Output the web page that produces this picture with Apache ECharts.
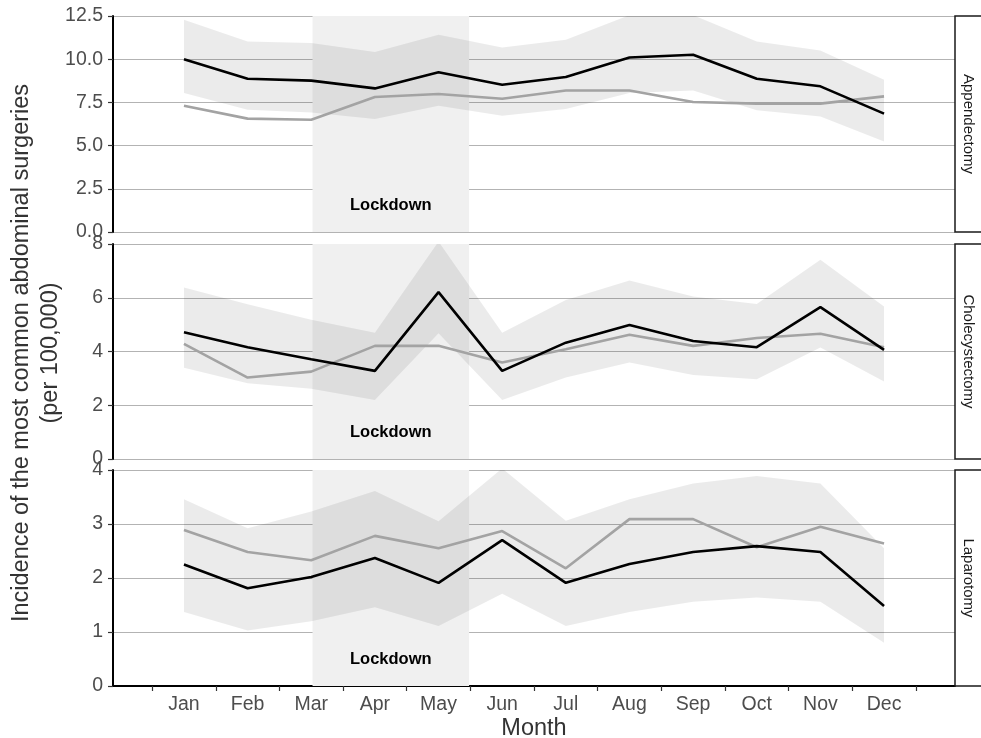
<!DOCTYPE html>
<html>
<head>
<meta charset="utf-8">
<script src="https://cdn.jsdelivr.net/npm/echarts@6/dist/echarts.min.js"></script>
<style>
html,body{margin:0;padding:0;background:#fff;}
#chart{width:981px;height:738px;}
</style>
</head>
<body>
<div id="chart"></div>
<script>
// ---- data ----
var months = ['Jan','Feb','Mar','Apr','May','Jun','Jul','Aug','Sep','Oct','Nov','Dec'];
var panels = ['Appendectomy','Cholecystectomy','Laparotomy'];
var lockdown = [2.02, 4.48]; // in month-index units

var appBlack = [10.0, 8.87, 8.76, 8.31, 9.24, 8.52, 8.97, 10.10, 10.26, 8.87, 8.43, 6.85];
var appGray  = [7.31, 6.56, 6.50, 7.81, 7.99, 7.71, 8.19, 8.19, 7.52, 7.43, 7.43, 7.85];
var appHi    = [12.28, 11.03, 10.94, 10.42, 11.42, 10.68, 11.13, 12.55, 12.55, 11.03, 10.51, 8.81];
var appLo    = [8.04, 7.07, 6.92, 6.54, 7.31, 6.73, 7.12, 8.04, 8.19, 7.04, 6.69, 5.24];

var choBlack = [4.72, 4.16, 3.71, 3.28, 6.21, 3.28, 4.33, 4.99, 4.39, 4.16, 5.65, 4.06];
var choGray  = [4.28, 3.03, 3.25, 4.21, 4.21, 3.59, 4.08, 4.62, 4.21, 4.50, 4.66, 4.16];
var choHi    = [6.38, 5.76, 5.18, 4.70, 8.09, 4.70, 5.92, 6.64, 6.05, 5.77, 7.41, 5.67];
var choLo    = [3.40, 2.82, 2.61, 2.20, 4.68, 2.20, 3.03, 3.59, 3.13, 2.97, 4.15, 2.88];

var lapBlack = [2.25, 1.81, 2.02, 2.37, 1.91, 2.70, 1.91, 2.26, 2.48, 2.59, 2.48, 1.48];
var lapGray  = [2.89, 2.48, 2.33, 2.78, 2.55, 2.87, 2.18, 3.09, 3.09, 2.57, 2.95, 2.64];
var lapHi    = [3.46, 2.92, 3.23, 3.61, 3.05, 4.03, 3.06, 3.46, 3.75, 3.89, 3.75, 2.55];
var lapLo    = [1.37, 1.03, 1.20, 1.46, 1.11, 1.71, 1.11, 1.37, 1.56, 1.64, 1.56, 0.80];

var yTicks = [
  {min: 0, max: 12.5, interval: 2.5, dec: 1},
  {min: 0, max: 8, interval: 2, dec: 0},
  {min: 0, max: 4, interval: 1, dec: 0}
];
var yTitle = 'Incidence of the most common abdominal surgeries';
var yTitle2 = '(per 100,000)';
var xTitle = 'Month';

var seriesSets = [
  {black: appBlack, gray: appGray, hi: appHi, lo: appLo},
  {black: choBlack, gray: choGray, hi: choHi, lo: choLo},
  {black: lapBlack, gray: lapGray, hi: lapHi, lo: lapLo}
];

// ---- layout ----
var FONT = 'Liberation Sans, Arial, sans-serif';
var gridLeft = 113, gridRight = 955;
var gridTops = [16, 244, 470];
var gridHeights = [216, 215, 216];
var xMin = -1.115, xMax = 12.115;

var tickVals = [], labelVals = [];
for (var k = 0; k <= months.length; k++) tickVals.push(k - 0.5);
for (var k2 = 0; k2 < months.length; k2++) labelVals.push(k2);

function pairs(arr){ return arr.map(function(v,i){ return [i, v]; }); }
function ribbonData(hi, lo){ return hi.map(function(v,i){ return [i, lo[i], v]; }); }

function makeRibbonRender(hi, lo){
  return function(params, api){
    if (params.dataIndex !== 0) return null;
    var pts = [];
    for (var i = 0; i < hi.length; i++) pts.push(api.coord([i, hi[i]]));
    for (var j = lo.length - 1; j >= 0; j--) pts.push(api.coord([j, lo[j]]));
    return {
      type: 'polygon',
      shape: {points: pts},
      style: {fill: 'rgba(0,0,0,0.08)'}
    };
  };
}

var grids = [], xAxes = [], yAxes = [], series = [], graphics = [];
for (var p = 0; p < 3; p++) {
  grids.push({left: gridLeft, width: gridRight - gridLeft, top: gridTops[p], height: gridHeights[p],
    containLabel: false, outerBoundsMode: 'none'});
  var isBottom = (p === 2);
  xAxes.push({
    type: 'value', gridIndex: p, min: xMin, max: xMax,
    axisLine: {show: isBottom, onZero: false, lineStyle: {color: '#000', width: 2}},
    axisTick: {show: isBottom, customValues: tickVals, length: 5, lineStyle: {color: '#333', width: 1.2}},
    axisLabel: {show: isBottom, customValues: labelVals, margin: 9,
      formatter: function(v){ var i = Math.round(v); return months[i] || ''; },
      fontFamily: FONT, fontSize: 19.5, color: '#4d4d4d'},
    splitLine: {show: false},
    name: isBottom ? xTitle : '', nameLocation: 'middle', nameGap: 31,
    nameTextStyle: {fontFamily: FONT, fontSize: 23.5, color: '#333'}
  });
  (function(t){
    yAxes.push({
      type: 'value', gridIndex: p, min: t.min, max: t.max, interval: t.interval,
      axisLine: {show: true, onZero: false, lineStyle: {color: '#000', width: 2}},
      axisTick: {show: true, length: 5, lineStyle: {color: '#333', width: 1.2}},
      axisLabel: {margin: 10, fontFamily: FONT, fontSize: 19.5, color: '#4d4d4d',
        formatter: function(v){ return v.toFixed(t.dec); }},
      splitLine: {show: true, lineStyle: {color: '#b3b3b3', width: 1}}
    });
  })(yTicks[p]);

  var s = seriesSets[p];
  // carrier for lockdown shading (invisible line)
  series.push({
    type: 'line', xAxisIndex: p, yAxisIndex: p, silent: true,
    data: pairs(s.lo), showSymbol: false, symbol: 'none',
    lineStyle: {width: 0, opacity: 0}, z: 1,
    markArea: {
      silent: true,
      itemStyle: {color: '#f0f0f0'},
      label: {show: true, position: 'insideBottom', distance: 18,
        fontFamily: FONT, fontSize: 16.5, fontWeight: 'bold', color: '#000'},
      data: [[{xAxis: lockdown[0], name: 'Lockdown'}, {xAxis: lockdown[1]}]]
    }
  });
  series.push({
    type: 'custom', xAxisIndex: p, yAxisIndex: p, silent: true, clip: true, z: 2,
    data: ribbonData(s.hi, s.lo),
    encode: {x: 0, y: [1, 2]},
    renderItem: makeRibbonRender(s.hi, s.lo)
  });
  series.push({
    type: 'line', xAxisIndex: p, yAxisIndex: p, silent: true,
    data: pairs(s.gray), showSymbol: false, symbol: 'none',
    lineStyle: {color: '#a3a3a3', width: 2.6}, z: 3
  });
  series.push({
    type: 'line', xAxisIndex: p, yAxisIndex: p, silent: true,
    data: pairs(s.black), showSymbol: false, symbol: 'none',
    lineStyle: {color: '#000', width: 2.6}, z: 4
  });

  // facet strip
  graphics.push({
    type: 'rect', silent: true, z: 10,
    shape: {x: gridRight, y: gridTops[p], width: 45, height: gridHeights[p]},
    style: {fill: '#fff', stroke: '#1a1a1a', lineWidth: 1.5}
  });
  graphics.push({
    type: 'text', silent: true, z: 11,
    x: 968, y: gridTops[p] + gridHeights[p] / 2, rotation: -Math.PI / 2,
    style: {text: panels[p], font: '15px ' + FONT, fill: '#1a1a1a',
      align: 'center', verticalAlign: 'middle', textAlign: 'center', textVerticalAlign: 'middle'}
  });
}

graphics.push({
  type: 'text', silent: true,
  x: 36, y: 353, rotation: Math.PI / 2,
  style: {text: yTitle + '\n' + yTitle2, font: '23.5px ' + FONT, fill: '#333', lineHeight: 29,
    align: 'center', verticalAlign: 'middle', textAlign: 'center', textVerticalAlign: 'middle'}
});

var chart = echarts.init(document.getElementById('chart'), null, {renderer: 'canvas'});
chart.setOption({
  animation: false,
  backgroundColor: '#fff',
  grid: grids,
  xAxis: xAxes,
  yAxis: yAxes,
  series: series,
  graphic: graphics
});
</script>
</body>
</html>
